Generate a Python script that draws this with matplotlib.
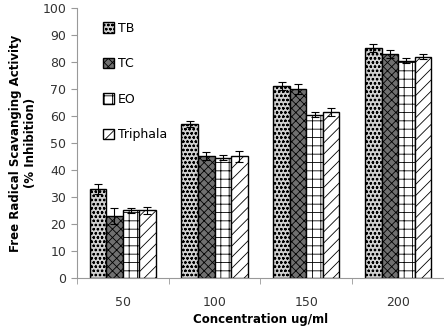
import numpy as np
import matplotlib
matplotlib.use('Agg')
import matplotlib.pyplot as plt

# --- data ---
concentrations = ['50', '100', '150', '200']
series_names = ['TB', 'TC', 'EO', 'Triphala']
tb = [33, 57, 71, 85]
tc = [23, 45, 70, 83]
eo = [25, 44.5, 60.5, 80.5]
triphala = [25, 45, 61.5, 82]
tb_err = [1.8, 1.0, 1.5, 1.5]
tc_err = [3.0, 1.5, 2.0, 1.5]
eo_err = [1.0, 1.0, 1.0, 1.0]
triphala_err = [1.2, 2.0, 1.5, 1.0]
y_ticks = list(range(0, 101, 10))

plt.rcParams['font.family'] = ['DejaVu Sans']
plt.rcParams['hatch.linewidth'] = 0.6

styles = [
    dict(facecolor='#d0d0d0', hatch='oooo'),
    dict(facecolor='#707070', hatch='xxxx'),
    dict(facecolor='white', hatch='++'),
    dict(facecolor='white', hatch='///'),
]

fig = plt.figure(figsize=(4.44, 3.30), dpi=100)
ax = fig.add_axes([0.173, 0.158, 0.827, 0.818])

x = np.arange(len(concentrations))
width = 0.18
all_vals = [tb, tc, eo, triphala]
all_errs = [tb_err, tc_err, eo_err, triphala_err]
for i, (vals, errs, name, st) in enumerate(zip(all_vals, all_errs, series_names, styles)):
    pos = x + (i - 1.5) * width
    ax.bar(pos, vals, width, label=name, edgecolor='black', linewidth=1.0, **st)
    ax.errorbar(pos, vals, yerr=errs, fmt='none', ecolor='black', elinewidth=0.8,
                capsize=3, capthick=0.8)

ax.set_xlim(-0.5, len(concentrations) - 0.5)
ax.set_ylim(0, 100)
ax.set_yticks(y_ticks)
ax.set_xticks(x)
ax.set_xticklabels(concentrations)
ax.set_xticks(np.arange(-0.5, len(concentrations)), minor=True)
ax.tick_params(axis='x', which='major', length=0, pad=13, labelsize=9, labelcolor='#333333')
ax.tick_params(axis='x', which='minor', length=4, color='#999999')
ax.tick_params(axis='y', length=4, color='#999999', labelsize=9, labelcolor='#333333')

for side in ['top', 'right']:
    ax.spines[side].set_visible(False)
ax.spines['left'].set_color('#999999')
ax.spines['bottom'].set_color('#999999')

ax.set_ylabel('Free Radical Scavanging Activity\n(% Inhibition)', fontsize=8.5,
              fontweight='bold', labelpad=4)
ax.set_xlabel('Concentration ug/ml', fontsize=8.5, fontweight='bold', labelpad=3)

ax.legend(loc='upper left', bbox_to_anchor=(0.04, 0.99), frameon=False, fontsize=9,
          handlelength=0.9, handleheight=0.9, handletextpad=0.3, labelspacing=1.8)

fig.savefig('out.png', dpi=100)
